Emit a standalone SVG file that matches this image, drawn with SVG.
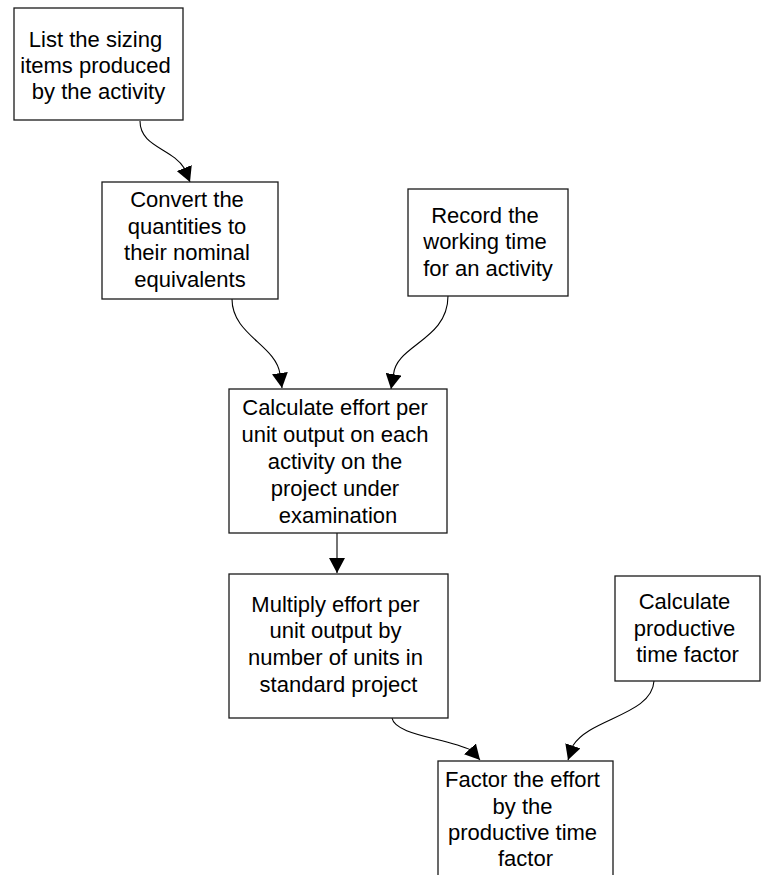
<svg xmlns="http://www.w3.org/2000/svg" width="762" height="875" viewBox="0 0 762 875">
  <style>
    .box { fill: #ffffff; stroke: #1a1a1a; stroke-width: 1.3; }
    .lbl { font-family: "Liberation Sans", Arial, sans-serif; font-size: 22px; fill: #000000; text-anchor: middle; }
    .edge { fill: none; stroke: #000000; stroke-width: 1.1; marker-end: url(#arrow); }
  </style>
  <defs>
    <marker id="arrow" markerUnits="userSpaceOnUse" viewBox="0 0 15 16" refX="15" refY="8" markerWidth="15" markerHeight="16" orient="auto">
      <path d="M0,0 L15,8 L0,16 z" fill="#000000"/>
    </marker>
  </defs>
  <rect width="762" height="875" fill="#ffffff"/>

  <g id="connectors">
    <path class="edge" d="M140,121 C140,147 172,148 184.5,168.5 L190,182"/>
    <path class="edge" d="M232,299 C232,335 276,345 280,374 L282,388"/>
    <path class="edge" d="M448,296 C448,340 396,345 393.5,374.5 L391,389"/>
    <path class="edge" d="M337,533 L337,573"/>
    <path class="edge" d="M392,718 C395,735 445,738 471,750 L480,760"/>
    <path class="edge" d="M654,681 C652,715 590,718 573,745.5 L568,760"/>
  </g>

  <g id="list-sizing-items">
    <rect class="box" x="14" y="8" width="169" height="112"/>
    <text class="lbl" x="95.5" y="47">List the sizing</text>
    <text class="lbl" x="95.5" y="73">items produced</text>
    <text class="lbl" x="98.5" y="99">by the activity</text>
  </g>

  <g id="convert-quantities">
    <rect class="box" x="102" y="182" width="176" height="117"/>
    <text class="lbl" x="187" y="207">Convert the</text>
    <text class="lbl" x="187" y="234">quantities to</text>
    <text class="lbl" x="187" y="260">their nominal</text>
    <text class="lbl" x="190" y="287">equivalents</text>
  </g>

  <g id="record-working-time">
    <rect class="box" x="408" y="189" width="160" height="107"/>
    <text class="lbl" x="485" y="223">Record the</text>
    <text class="lbl" x="485" y="249">working time</text>
    <text class="lbl" x="488" y="276">for an activity</text>
  </g>

  <g id="calculate-effort">
    <rect class="box" x="229" y="389" width="218" height="144"/>
    <text class="lbl" x="335" y="415">Calculate effort per</text>
    <text class="lbl" x="335" y="442">unit output on each</text>
    <text class="lbl" x="335" y="469">activity on the</text>
    <text class="lbl" x="335" y="496">project under</text>
    <text class="lbl" x="338" y="523">examination</text>
  </g>

  <g id="multiply-effort">
    <rect class="box" x="229" y="574" width="219" height="144"/>
    <text class="lbl" x="335.5" y="612">Multiply effort per</text>
    <text class="lbl" x="335.5" y="638">unit output by</text>
    <text class="lbl" x="335.5" y="665">number of units in</text>
    <text class="lbl" x="338.5" y="692">standard project</text>
  </g>

  <g id="productive-time-factor">
    <rect class="box" x="615" y="576" width="145" height="105"/>
    <text class="lbl" x="684.5" y="609">Calculate</text>
    <text class="lbl" x="684.5" y="636">productive</text>
    <text class="lbl" x="687.5" y="662">time factor</text>
  </g>

  <g id="factor-effort">
    <rect class="box" x="438" y="761" width="175" height="130"/>
    <text class="lbl" x="522.5" y="787">Factor the effort</text>
    <text class="lbl" x="522.5" y="814">by the</text>
    <text class="lbl" x="522.5" y="840">productive time</text>
    <text class="lbl" x="525.5" y="866">factor</text>
  </g>
</svg>
